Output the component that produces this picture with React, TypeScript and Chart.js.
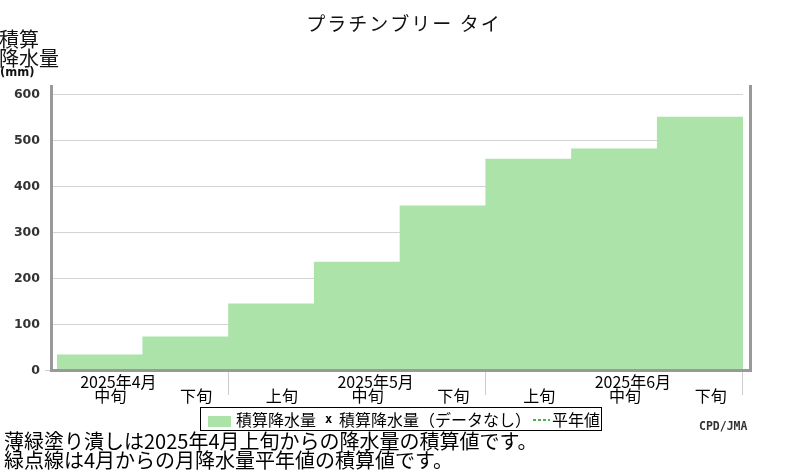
import { useEffect, useRef } from 'react';
import { Chart, registerables } from 'chart.js';

Chart.register(...registerables);

const titleText = 'プラチンブリー タイ';
const dekadLabels = ['中旬', '下旬', '上旬', '中旬', '下旬', '上旬', '中旬', '下旬'];
const dekadMonth = [0, 0, 1, 1, 1, 2, 2, 2];
const monthLabels = ['2025年4月', '2025年5月', '2025年6月'];
const accumulatedRain = [33, 72, 144, 235, 357, 459, 481, 550];
const yTicks = [0, 100, 200, 300, 400, 500, 600];
const yMax = 620;
const yAxisTitle = ['積算', '降水量'];
const yAxisUnit = '(mm)';
const legendItems = ['積算降水量', '積算降水量（データなし）', '平年値'];
const noteLines = [
  '薄緑塗り潰しは2025年4月上旬からの降水量の積算値です。',
  '緑点線は4月からの月降水量平年値の積算値です。',
];
const credit = 'CPD/JMA';

const JP = '"Noto Sans CJK JP", "Noto Sans CJK SC", sans-serif';
const GREEN = '#abe3a9';
const FRAME = '#999999';

const decor = {
  id: 'decor',
  beforeDatasetsDraw(chart: any) {
    const { ctx, chartArea, scales } = chart;
    const y = scales.y;
    ctx.save();
    ctx.strokeStyle = '#d3d3d3';
    ctx.lineWidth = 1;
    yTicks.forEach((v) => {
      if (v === 0) return;
      const py = Math.round(y.getPixelForValue(v)) + 0.5;
      ctx.beginPath();
      ctx.moveTo(chartArea.left - 4, py);
      ctx.lineTo(chartArea.right, py);
      ctx.stroke();
    });
    ctx.restore();
  },
  afterDatasetsDraw(chart: any) {
    const { ctx, chartArea, scales } = chart;
    const y = scales.y;
    const x = scales.x;
    const y0 = Math.round(y.getPixelForValue(0));
    ctx.save();
    // frame
    ctx.fillStyle = FRAME;
    const fl = chartArea.left - 7;
    const fr = chartArea.right + 6;
    ctx.fillRect(fl, chartArea.top, 3, y0 + 2 - chartArea.top);
    ctx.fillRect(fr, chartArea.top, 3, y0 + 2 - chartArea.top);
    ctx.fillRect(fl, y0 - 1, fr + 3 - fl, 3);
    // zero tick
    ctx.strokeStyle = '#cfcfcf';
    ctx.lineWidth = 1;
    ctx.beginPath();
    ctx.moveTo(fl - 5, y0 + 0.5);
    ctx.lineTo(fl, y0 + 0.5);
    ctx.stroke();

    // y tick labels
    ctx.fillStyle = '#333';
    ctx.font = 'bold 12.5px "DejaVu Sans", sans-serif';
    ctx.textAlign = 'right';
    ctx.textBaseline = 'middle';
    yTicks.forEach((v) => {
      ctx.fillText(String(v), 40, y.getPixelForValue(v) + 0.5);
    });

    // month separators
    ctx.strokeStyle = '#cccccc';
    dekadMonth.forEach((m, i) => {
      if (i === dekadMonth.length - 1 || dekadMonth[i + 1] !== m) {
        const px = Math.round(x.getPixelForValue(i + 0.5)) - 0.5;
        ctx.beginPath();
        ctx.moveTo(px, y0 + 2);
        ctx.lineTo(px, y0 + 25);
        ctx.stroke();
      }
    });

    // x labels
    ctx.fillStyle = '#000';
    ctx.font = `16px ${JP}`;
    ctx.textAlign = 'center';
    dekadLabels.forEach((lab, i) => {
      ctx.fillText(lab, x.getPixelForValue(i) + 10.5, y0 + 26);
    });
    monthLabels.forEach((lab, m) => {
      const idx = dekadLabels.findIndex((d, i) => d === '中旬' && dekadMonth[i] === m);
      ctx.fillText(lab, x.getPixelForValue(idx) + 18.5, y0 + 12);
    });

    // title
    ctx.font = `19px ${JP}`;
    ctx.fillStyle = '#111';
    (ctx as any).letterSpacing = '2px';
    ctx.fillText(titleText, 404, 24);
    (ctx as any).letterSpacing = '0px';

    // y axis title
    ctx.textAlign = 'left';
    ctx.font = `20px ${JP}`;
    ctx.fillText(yAxisTitle[0], -1, 39);
    ctx.fillText(yAxisTitle[1], -1, 58);
    ctx.font = 'bold 11.5px "DejaVu Sans", sans-serif';
    ctx.fillText(yAxisUnit, 0, 73);

    // legend
    ctx.strokeStyle = '#000';
    ctx.lineWidth = 1;
    ctx.strokeRect(200.5, 407.5, 401, 23);
    ctx.fillStyle = GREEN;
    ctx.fillRect(208, 416, 23, 11);
    ctx.fillStyle = '#000';
    ctx.font = `16px ${JP}`;
    ctx.textBaseline = 'middle';
    ctx.fillText(legendItems[0], 236, 420);
    ctx.font = 'bold 12px "DejaVu Sans Mono", monospace';
    ctx.fillText('x', 325, 420);
    ctx.font = `16px ${JP}`;
    ctx.fillText(legendItems[1], 339, 420);
    ctx.strokeStyle = '#119911';
    ctx.lineWidth = 1.5;
    ctx.setLineDash([3, 2]);
    ctx.beginPath();
    ctx.moveTo(533, 420);
    ctx.lineTo(550, 420);
    ctx.stroke();
    ctx.setLineDash([]);
    ctx.fillText(legendItems[2], 552, 420);

    // credit
    ctx.fillStyle = '#333';
    ctx.font = 'bold 11.5px "DejaVu Sans Mono", monospace';
    ctx.fillText(credit, 699, 427);

    // notes
    ctx.fillStyle = '#000';
    ctx.font = `20px ${JP}`;
    ctx.fillText(noteLines[0], 4, 441);
    ctx.fillText(noteLines[1], 4, 460);
    ctx.restore();
  },
};

export default function App() {
  const ref = useRef<HTMLCanvasElement>(null);
  useEffect(() => {
    if (!ref.current) return;
    const chart = new Chart(ref.current, {
      type: 'bar',
      data: {
        labels: dekadLabels,
        datasets: [
          {
            label: legendItems[0],
            data: accumulatedRain,
            backgroundColor: GREEN,
            borderWidth: 0,
            barPercentage: 1,
            categoryPercentage: 1,
          },
        ],
      },
      options: {
        responsive: false,
        animation: false,
        devicePixelRatio: 1,
        layout: { padding: { left: 57, right: 57, top: 85, bottom: 100 } },
        plugins: { legend: { display: false }, title: { display: false }, tooltip: { enabled: false } },
        scales: {
          x: { type: 'category', display: false, offset: true },
          y: { type: 'linear', display: false, min: 0, max: yMax },
        },
      },
      plugins: [decor],
    });
    return () => chart.destroy();
  }, []);
  return (
    <div style={{ position: 'fixed', left: 0, top: 0, width: 800, height: 470, background: '#fff' }}>
      <canvas ref={ref} width={800} height={470} style={{ display: 'block' }} />
    </div>
  );
}
